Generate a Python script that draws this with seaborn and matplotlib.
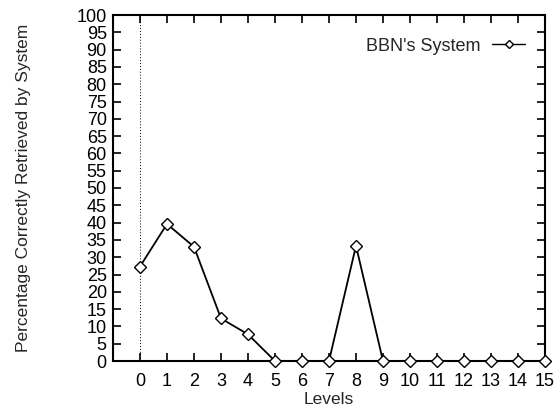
import matplotlib
matplotlib.use("Agg")
import matplotlib.pyplot as plt
import seaborn as sns
import pandas as pd

levels = list(range(16))
bbn_percent = [27.3, 39.6, 33.0, 12.3, 7.7, 0, 0, 0, 33.3, 0, 0, 0, 0, 0, 0, 0]
y_ticks = list(range(0, 101, 5))
series_name = "BBN's System"

sns.set_theme(style="ticks")
plt.rcParams["font.family"] = ["Liberation Sans", "DejaVu Sans"]

df = pd.DataFrame({"Levels": levels, "Percent": bbn_percent, "System": series_name})

fig = plt.figure(figsize=(5.57, 4.09), dpi=100)
ax = fig.add_axes([113 / 557, 1 - 361 / 409, (545 - 113) / 557, (361 - 15) / 409])

sns.lineplot(data=df, x="Levels", y="Percent", hue="System", palette=["black"],
             marker="D", markersize=6, markerfacecolor="white", markeredgecolor="black",
             markeredgewidth=1.0, linewidth=1.3, ax=ax, clip_on=False, zorder=3)

ax.axvline(0, color="black", linestyle=(0, (1, 2)), linewidth=0.7, zorder=1)

ax.set_xlim(-1, 15)
ax.set_ylim(0, 100)
ax.set_xticks(levels)
ax.set_yticks(y_ticks)
ax.tick_params(direction="in", top=True, right=True, length=6, width=1.2,
               labelsize=13, colors="black")
ax.tick_params(axis="x", pad=9)
ax.tick_params(axis="y", pad=4.5)
for s in ax.spines.values():
    s.set_linewidth(1.5)
    s.set_color("black")

ax.set_xlabel("Levels", fontsize=12.5, labelpad=1)
ax.set_ylabel("Percentage Correctly Retrieved by System", fontsize=12.5, labelpad=33)

leg = ax.legend(loc="upper right", frameon=False, fontsize=13, markerfirst=False,
                handlelength=1.8, handletextpad=0.65, borderaxespad=0.0,
                bbox_to_anchor=(0.97, 0.955))
for h in leg.legend_handles:
    h.set_markersize(4)
    h.set_linewidth(1.0)

fig.savefig("out.png", dpi=100)
